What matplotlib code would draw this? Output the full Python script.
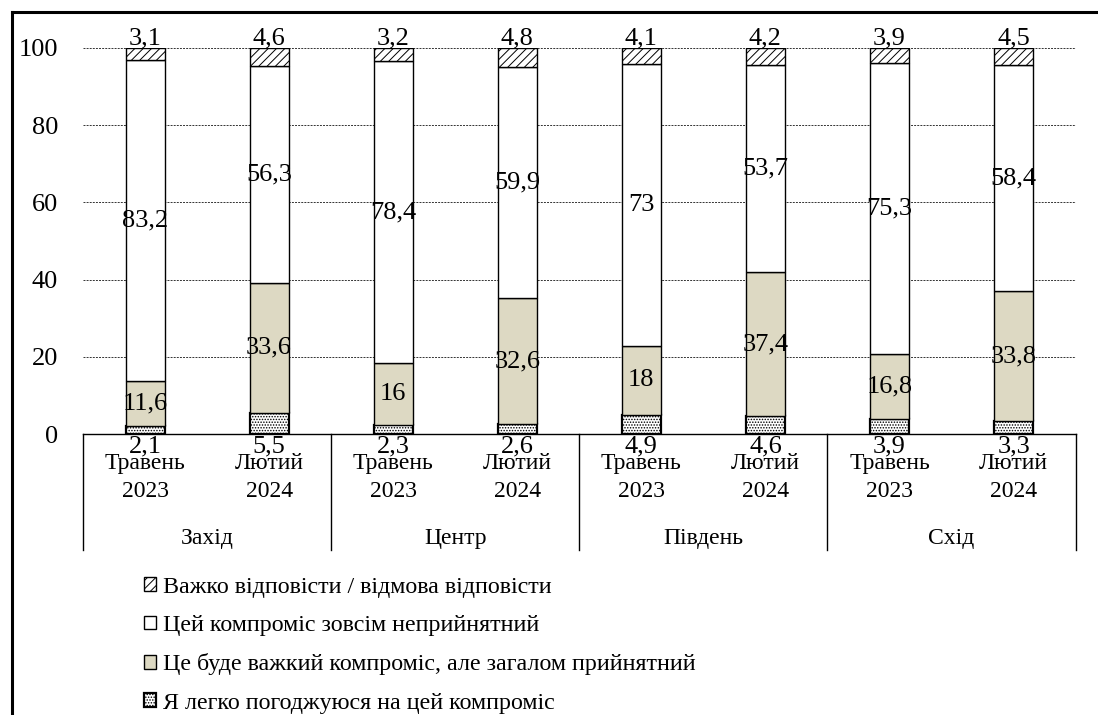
import matplotlib
matplotlib.use('Agg')
import matplotlib.pyplot as plt
import matplotlib.transforms as mtransforms
from matplotlib.patches import Patch
from matplotlib.lines import Line2D
import numpy as np

# Data
regions = ['Захід', 'Центр', 'Південь', 'Схід']
periods = ['Травень\n2023', 'Лютий\n2024']
easy = [2.1, 5.5, 2.3, 2.6, 4.9, 4.6, 3.9, 3.3]
hard_ok = [11.6, 33.6, 16, 32.6, 18, 37.4, 16.8, 33.8]
unacceptable = [83.2, 56.3, 78.4, 59.9, 73, 53.7, 75.3, 58.4]
no_answer = [3.1, 4.6, 3.2, 4.8, 4.1, 4.2, 3.9, 4.5]
series_names = ['Я легко погоджуюся на цей компроміс',
                'Це буде важкий компроміс, але загалом прийнятний',
                'Цей компроміс зовсім неприйнятний',
                'Важко відповісти / відмова відповісти']

plt.rcParams['font.family'] = ['Liberation Serif', 'DejaVu Serif']
plt.rcParams['hatch.linewidth'] = 0.7

def fmt(v):
    return ('%g' % v).replace('.', ',')

fig = plt.figure(figsize=(10.98, 7.15), dpi=100)
ax = fig.add_axes([0.0756, 0.393, 0.904, 0.540])

x = np.arange(len(easy))
w = 0.315
bottoms = np.zeros(len(easy))
styles = [
    dict(facecolor='white', hatch='......', linewidth=1.6),
    dict(facecolor='#ddd9c3', hatch=None, linewidth=1.0),
    dict(facecolor='white', hatch=None, linewidth=1.0),
    dict(facecolor='white', hatch='////', linewidth=1.0),
]
handles = []
for vals, st, name in zip([easy, hard_ok, unacceptable, no_answer], styles, series_names):
    ax.bar(x, vals, w, bottom=bottoms, edgecolor='black', zorder=3, **st)
    handles.append(Patch(edgecolor='black', label=name, **st))
    bottoms += np.array(vals)

# value labels
for i in range(len(easy)):
    ax.annotate(fmt(easy[i]), (x[i], 0), xytext=(0, -1), textcoords='offset points',
                ha='center', va='top', fontsize=19, annotation_clip=False)
    ax.text(x[i], easy[i] + hard_ok[i] / 2, fmt(hard_ok[i]), ha='center', va='center',
            fontsize=19, zorder=5)
    ax.text(x[i], easy[i] + hard_ok[i] + unacceptable[i] / 2, fmt(unacceptable[i]),
            ha='center', va='center', fontsize=19, zorder=5)
    ax.annotate(fmt(no_answer[i]), (x[i], 100), xytext=(0, 2.5), textcoords='offset points',
                ha='center', va='baseline', fontsize=19, annotation_clip=False)

ax.set_xlim(-0.5, len(easy) - 0.5)
ax.set_ylim(0, 100)
ax.set_yticks([0, 20, 40, 60, 80, 100])
ax.tick_params(axis='y', length=0, pad=18, labelsize=19)
ax.yaxis.grid(True, color='#333333', linestyle=(0, (2, 1.2)), linewidth=0.7, zorder=0)
ax.set_axisbelow(True)

ax.set_xticks(x)
ax.set_xticklabels(periods * len(regions), fontsize=17, linespacing=1.4)
ax.tick_params(axis='x', length=0, pad=14)

for s in ['left', 'right', 'top']:
    ax.spines[s].set_visible(False)
ax.spines['bottom'].set_linewidth(1.0)

# group separators and region names
trans = mtransforms.blended_transform_factory(ax.transData, ax.transAxes)
for b in np.arange(-0.5, len(easy), 2):
    ax.plot([b, b], [0, -0.30], color='black', linewidth=1.0, transform=trans, clip_on=False)
for j, r in enumerate(regions):
    ax.text(2 * j + 0.5, -0.270, r, ha='center', va='center', fontsize=17, transform=trans)

# legend
fig.legend(handles=handles[::-1], loc='upper left', bbox_to_anchor=(0.122, 0.207),
           frameon=False, fontsize=17.3, handlelength=0.5, handleheight=0.5,
           handletextpad=0.3, labelspacing=0.72, borderaxespad=0)

# outer frame (left and top)
fig.add_artist(Line2D([0.0105, 0.0105], [0, 0.983], color='black', linewidth=2.2,
                      transform=fig.transFigure))
fig.add_artist(Line2D([0.0105, 1.0], [0.983, 0.983], color='black', linewidth=2.2,
                      transform=fig.transFigure))

fig.savefig('out.png', dpi=100)
